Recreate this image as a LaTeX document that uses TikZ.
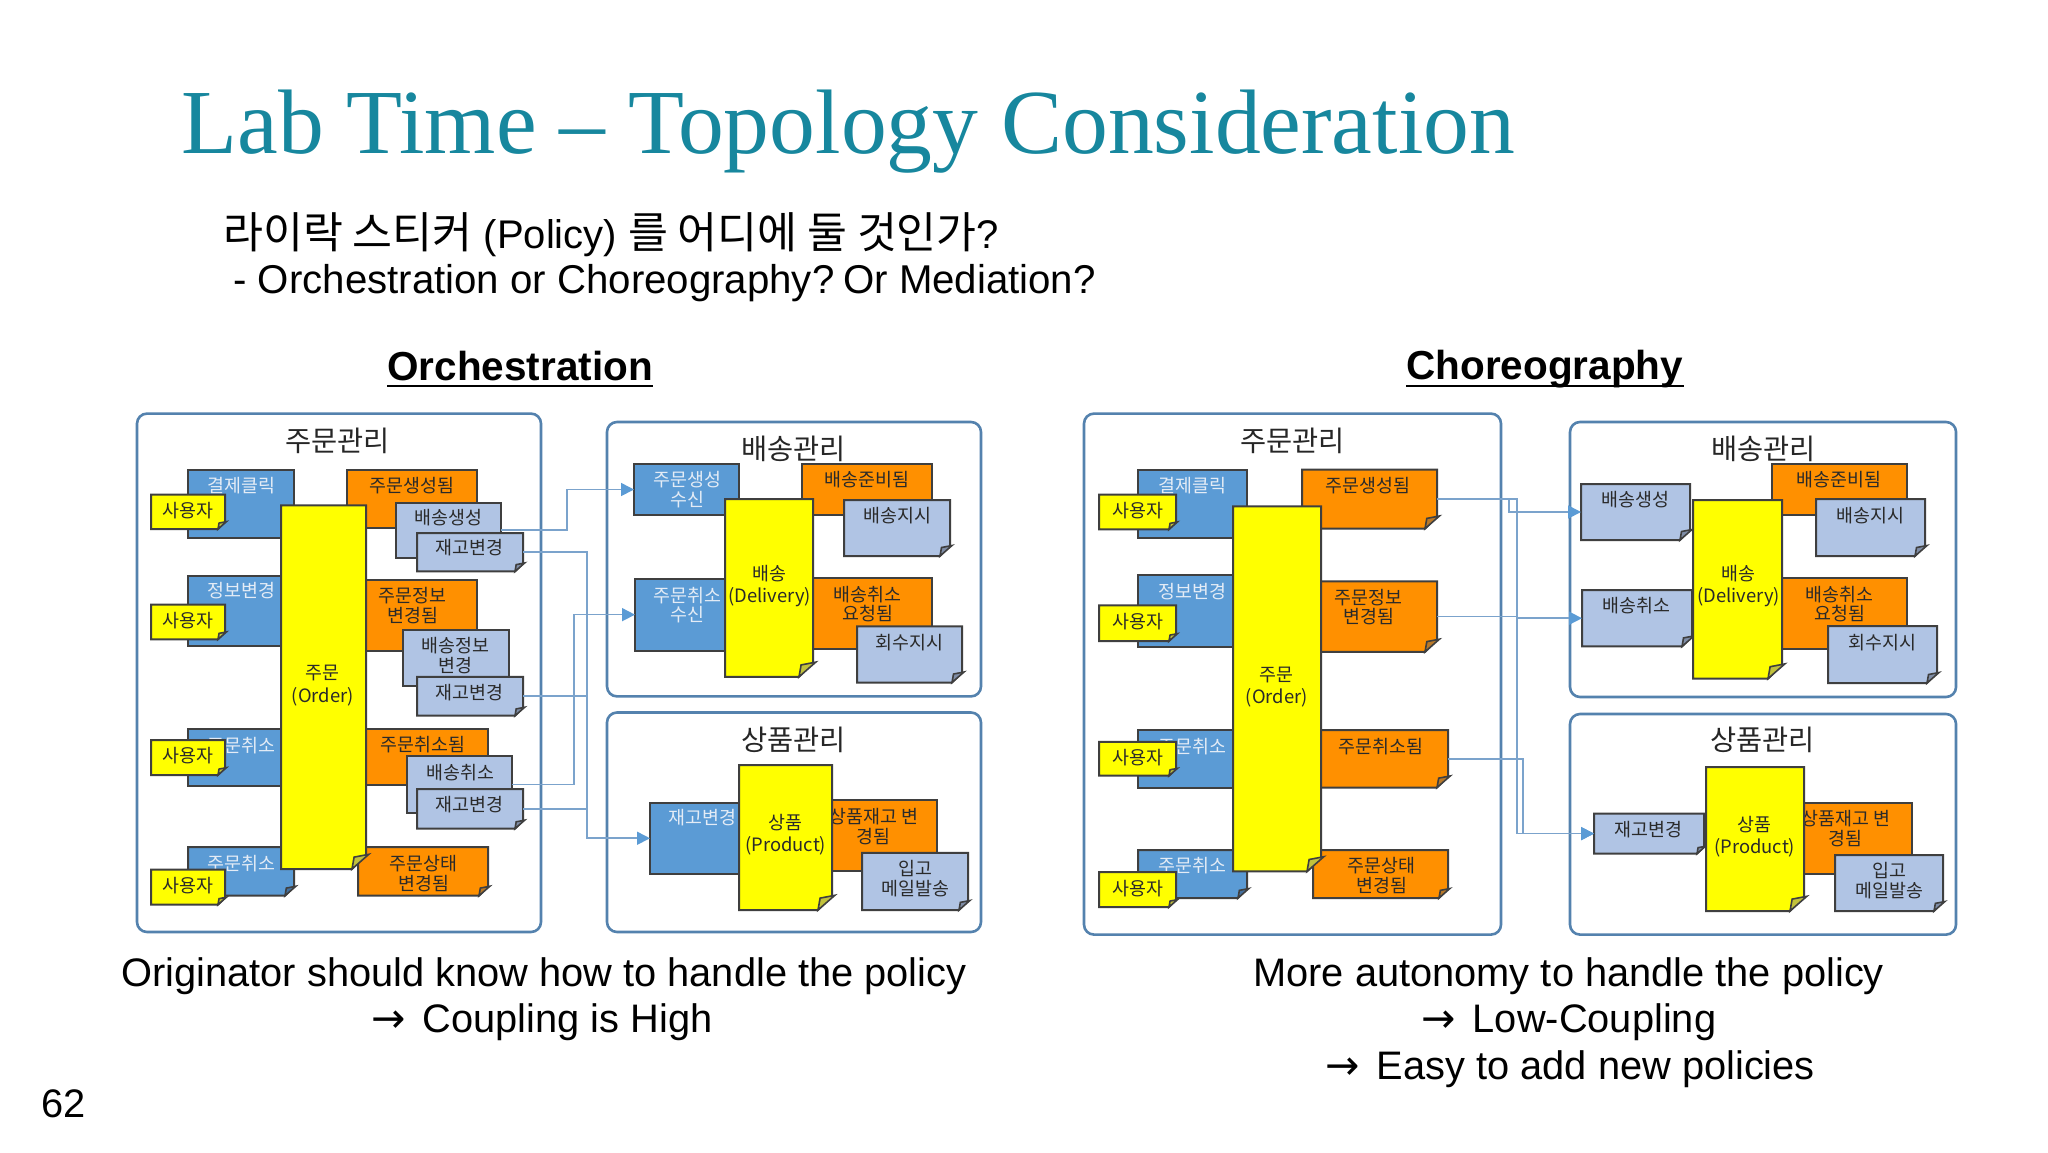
\documentclass[tikz,border=0pt]{standalone}
\usepackage{fontspec}
\usetikzlibrary{calc,arrows.meta}
\setmainfont{Liberation Sans}
\newfontfamily\titlefont{Liberation Serif}
\newfontfamily\kr{Noto Sans CJK KR}
\newfontfamily\arrowfont{DejaVu Sans}
\definecolor{bluefill}{HTML}{5B9BD5}
\definecolor{orangefill}{HTML}{FF9000}
\definecolor{grayfill}{HTML}{B0C4E4}
\definecolor{yellowfill}{HTML}{FFFF00}
\definecolor{edgecol}{HTML}{3F3F3F}
\definecolor{framecol}{HTML}{5482AE}
\definecolor{flowcol}{HTML}{7BA3CC}
\definecolor{tipcol}{HTML}{5B9BD5}
\definecolor{titlecol}{HTML}{17879E}
\definecolor{foldY}{HTML}{C2C23C}
\definecolor{foldO}{HTML}{B8792A}
\definecolor{foldB}{HTML}{44709E}
\definecolor{foldG}{HTML}{7F8DA6}
\definecolor{lighttext}{HTML}{E4ECF6}
\definecolor{darktext}{HTML}{2A2A2A}
\newcount\lblcount
\newcommand\arr{{\arrowfont\fontsize{20.5}{22}\selectfont →}}
\tikzset{
  x=0.5pt,y=-0.5pt,
  frame/.style={draw=framecol,line width=1.3pt,rounded corners=5pt,fill=white},
  boxnode/.style={draw=edgecol,line width=1pt,inner sep=0pt,outer sep=0pt},
  anchornode/.style={inner sep=0pt,outer sep=0pt},
  notebody/.style={draw=edgecol,line width=1pt,line join=miter},
  kortext/.style={font=\kr\fontsize{9.2}{10}\selectfont,inner sep=0pt},
  headtext/.style={font=\kr\fontsize{14.2}{15}\selectfont,inner sep=0pt,text=black!85},
  flow/.style={draw=flowcol,line width=0.8pt},
  flowtip/.style={flow,-{Triangle[length=6.5pt,width=6.5pt,color=tipcol]}},
  slidetext/.style={font=\fontsize{19.9}{22}\selectfont,inner sep=0pt,anchor=base west},
}
% name x1 y1 x2 y2 fill
\newcommand\plainbox[6]{%
  \node[boxnode,fill=#6,minimum width={(#4-#2)*0.5},minimum height={(#5-#3)*0.5}] (#1) at ({(#2+#4)/2},{(#3+#5)/2}) {};}
% name x1 y1 x2 y2 fill foldsize foldfill
\newcommand\notebox[8]{%
  \node[anchornode,minimum width={(#4-#2)*0.5},minimum height={(#5-#3)*0.5}] (#1) at ({(#2+#4)/2},{(#3+#5)/2}) {};
  \path[notebody,fill=#6] (#2,#3) -- (#4,#3) -- (#4,{#5-#7}) -- ({#4-#7},#5) -- (#2,#5) -- cycle;
  \path[notebody,fill=#8,line width=0.8pt] ({#4-#7},#5) -- ({#4-0.85*#7},{#5-0.85*#7}) -- ({#4+0.2*#7},{#5-1.05*#7}) -- cycle;}
% x y colour text
\newcommand\lbl[4]{%
  \global\advance\lblcount by 1
  \node[kortext,text=#3] (t\the\lblcount) at ({#1+0.7},{#2+1}) {#4};}
\newcommand\hd[3]{%
  \global\advance\lblcount by 1
  \node[headtext] (t\the\lblcount) at ({#1+0.7},{#2+1}) {#3};}
\begin{document}
\begin{tikzpicture}
\useasboundingbox (0,0) rectangle (2048,1152);
\fill[white] (0,0) rectangle (2048,1152);

% slide texts
\node[inner sep=0pt,anchor=base west,text=titlecol,font=\titlefont\fontsize{45.8}{50}\selectfont] (title) at (181,153) {Lab Time – Topology Consideration};
\node[slidetext,font=\fontsize{20}{22}\selectfont] (q1) at (223,248) {{\kr\fontsize{21.7}{23}\selectfont 라이락 스티커} (Policy) {\kr\fontsize{21.7}{23}\selectfont 를 어디에 둘 것인가}?};
\node[slidetext,font=\fontsize{20.1}{22}\selectfont] (q2) at (233,293) {- Orchestration or Choreography?\hspace{-3pt} Or Mediation?};
\node[slidetext,font=\bfseries\fontsize{20.25}{22}\selectfont] (orch) at (387,380) {Orchestration};
\draw[line width=1.25pt] ($(orch.base west)+(0,6)$) -- ($(orch.base east)+(0,6)$);
\node[slidetext,font=\bfseries\fontsize{20.25}{22}\selectfont] (chor) at (1406,379) {Choreography};
\draw[line width=1.25pt] ($(chor.base west)+(0,7)$) -- ($(chor.base east)+(0,7)$);
\node[slidetext] (c1) at (121,986) {Originator should know how to handle the policy};
\node[slidetext] (c2) at (371,1032) {\arr\hspace{3pt} Coupling is High};
\node[slidetext] (c3) at (1253,986) {More autonomy to handle the policy};
\node[slidetext] (c4) at (1421,1032) {\arr\hspace{3pt} Low-Coupling};
\node[slidetext] (c5) at (1325,1079) {\arr\hspace{3pt} Easy to add new policies};
\node[slidetext] (pg) at (41,1117) {62};

% ===== Orchestration: order frame
\path[frame] (137,413.6) rectangle (541,932);
\hd{337}{440}{주문관리}
\plainbox{aPay}{188}{470}{294}{537.5}{bluefill}
\lbl{241}{484.6}{lighttext}{결제클릭}
\plainbox{aInfo}{188}{575.7}{294}{646.4}{bluefill}
\lbl{241}{590}{lighttext}{정보변경}
\plainbox{aCan}{188}{728.6}{294}{785.7}{bluefill}
\lbl{241}{744.6}{lighttext}{주문취소}
\notebox{aCanB}{188}{847}{294}{895.7}{bluefill}{9}{foldB}
\lbl{241}{862.5}{lighttext}{주문취소}
\plainbox{aOc}{347}{469.6}{477}{527.9}{orangefill}
\lbl{411}{484.6}{darktext}{주문생성됨}
\plainbox{aOi}{346}{580}{477}{651}{orangefill}
\lbl{412}{595}{darktext}{주문정보}
\lbl{412}{615}{darktext}{변경됨}
\plainbox{aOx}{346}{728.6}{488}{785}{orangefill}
\lbl{422}{743.6}{darktext}{주문취소됨}
\notebox{aOs}{358}{847}{488}{895.7}{orangefill}{9}{foldO}
\lbl{423}{863}{darktext}{주문상태}
\lbl{423}{883}{darktext}{변경됨}
\notebox{aOrder}{281}{505.4}{366}{869}{yellowfill}{14}{foldY}
\lbl{322}{672}{darktext}{주문}
\lbl{322}{695.7}{darktext}{(Order)}
\plainbox{aShip}{396}{502.5}{501}{558}{grayfill}
\lbl{448}{517}{darktext}{배송생성}
\notebox{aStk}{417}{533}{523}{571.4}{grayfill}{8}{foldG}
\lbl{469}{547}{darktext}{재고변경}
\plainbox{aShipI}{403}{629.6}{509}{685.7}{grayfill}
\lbl{455}{645}{darktext}{배송정보}
\lbl{455}{665}{darktext}{변경}
\notebox{aStkI}{417}{676.8}{523}{715.7}{grayfill}{8}{foldG}
\lbl{469}{692}{darktext}{재고변경}
\plainbox{aShipX}{407}{756.4}{512}{812.5}{grayfill}
\lbl{460}{771.4}{darktext}{배송취소}
\notebox{aStkX}{417}{789}{523}{828.6}{grayfill}{8}{foldG}
\lbl{469}{804}{darktext}{재고변경}
\notebox{aU1}{151}{494.6}{225}{529}{yellowfill}{7}{foldY}
\lbl{187}{509.6}{darktext}{사용자}
\notebox{aU2}{151}{604.6}{225}{639.3}{yellowfill}{7}{foldY}
\lbl{187}{619.6}{darktext}{사용자}
\notebox{aU3}{151}{740}{225}{775}{yellowfill}{7}{foldY}
\lbl{187}{754.6}{darktext}{사용자}
\notebox{aU4}{151}{869.6}{225}{904.6}{yellowfill}{7}{foldY}
\lbl{187}{884.6}{darktext}{사용자}

% delivery frame
\path[frame] (607,422) rectangle (981,696.4);
\hd{793}{448}{배송관리}
\plainbox{bRc}{634}{463.6}{739}{515.4}{bluefill}
\lbl{687}{479}{lighttext}{주문생성}
\lbl{687}{499}{lighttext}{수신}
\plainbox{bRx}{635}{578.6}{740}{650.7}{bluefill}
\lbl{687}{594.6}{lighttext}{주문취소}
\lbl{687}{614}{lighttext}{수신}
\plainbox{bOr}{802}{463.6}{932}{515.4}{orangefill}
\lbl{866}{479}{darktext}{배송준비됨}
\plainbox{bOx}{802}{578}{932}{649}{orangefill}
\lbl{867}{594}{darktext}{배송취소}
\lbl{867}{613}{darktext}{요청됨}
\notebox{bDel}{725}{499}{813}{676.8}{yellowfill}{14}{foldY}
\lbl{769}{573}{darktext}{배송}
\lbl{769}{596}{darktext}{(Delivery)}
\notebox{bGo}{844}{500}{950}{556}{grayfill}{10}{foldG}
\lbl{897}{515}{darktext}{배송지시}
\notebox{bBack}{857}{626.4}{962}{682.5}{grayfill}{10}{foldG}
\lbl{909}{641.8}{darktext}{회수지시}

% product frame
\path[frame] (607,712.5) rectangle (981,932);
\hd{793}{738.6}{상품관리}
\plainbox{cStk}{650}{802.5}{745}{874}{bluefill}
\lbl{702}{816.8}{lighttext}{재고변경}
\plainbox{cOs}{815}{800}{937}{871.4}{orangefill}
\lbl{873}{816}{darktext}{상품재고 변}
\lbl{873}{835.7}{darktext}{경됨}
\notebox{cProd}{739}{765}{832}{910}{yellowfill}{14}{foldY}
\lbl{785}{821.4}{darktext}{상품}
\lbl{785}{844.6}{darktext}{(Product)}
\notebox{cMail}{862}{852.9}{968}{910}{grayfill}{9}{foldG}
\lbl{915}{867}{darktext}{입고}
\lbl{915}{887.5}{darktext}{메일발송}

% ===== Choreography: order frame
\path[frame] (1084,413.6) rectangle (1501,934.6);
\hd{1292}{440}{주문관리}
\plainbox{dPay}{1138}{469.6}{1247}{537.5}{bluefill}
\lbl{1192}{484.6}{lighttext}{결제클릭}
\plainbox{dInfo}{1138}{575}{1247}{647}{bluefill}
\lbl{1192}{591}{lighttext}{정보변경}
\plainbox{dCan}{1138}{730}{1247}{788}{bluefill}
\lbl{1192}{745.7}{lighttext}{주문취소}
\notebox{dCanB}{1138}{850}{1247}{898}{bluefill}{9}{foldB}
\lbl{1192}{865}{lighttext}{주문취소}
\notebox{dOc}{1302}{469.6}{1437}{528.6}{orangefill}{12}{foldO}
\lbl{1367}{485}{darktext}{주문생성됨}
\notebox{dOi}{1302}{581.4}{1437}{651.8}{orangefill}{12}{foldO}
\lbl{1368}{596.4}{darktext}{주문정보}
\lbl{1368}{616}{darktext}{변경됨}
\notebox{dOx}{1302}{730}{1448}{787.5}{orangefill}{11}{foldO}
\lbl{1380}{745.7}{darktext}{주문취소됨}
\notebox{dOs}{1313}{850}{1448}{898}{orangefill}{9}{foldO}
\lbl{1381}{865}{darktext}{주문상태}
\lbl{1381}{885}{darktext}{변경됨}
\notebox{dOrder}{1233}{506.4}{1321}{871.4}{yellowfill}{14}{foldY}
\lbl{1276}{674}{darktext}{주문}
\lbl{1276}{696.4}{darktext}{(Order)}
\notebox{dU1}{1099}{494.6}{1176}{529.3}{yellowfill}{7}{foldY}
\lbl{1137}{510}{darktext}{사용자}
\notebox{dU2}{1099}{605.4}{1176}{641}{yellowfill}{7}{foldY}
\lbl{1137}{620.7}{darktext}{사용자}
\notebox{dU3}{1099}{741.8}{1176}{775.7}{yellowfill}{7}{foldY}
\lbl{1137}{756.4}{darktext}{사용자}
\notebox{dU4}{1099}{872}{1176}{907}{yellowfill}{7}{foldY}
\lbl{1137}{887.5}{darktext}{사용자}

% delivery frame
\path[frame] (1570,422) rectangle (1956,697);
\hd{1763}{448}{배송관리}
\notebox{eShip}{1581}{484}{1690}{540}{grayfill}{10}{foldG}
\lbl{1635}{499}{darktext}{배송생성}
\notebox{eCan}{1582}{590}{1692}{646.4}{grayfill}{10}{foldG}
\lbl{1636}{605}{darktext}{배송취소}
\plainbox{eOr}{1772}{464}{1907}{515}{orangefill}
\lbl{1838}{479}{darktext}{배송준비됨}
\plainbox{eOx}{1772}{578}{1907}{649}{orangefill}
\lbl{1839}{594}{darktext}{배송취소}
\lbl{1839}{613}{darktext}{요청됨}
\notebox{eDel}{1693}{500}{1782}{678.6}{yellowfill}{14}{foldY}
\lbl{1738}{573}{darktext}{배송}
\lbl{1738}{596}{darktext}{(Delivery)}
\notebox{eGo}{1816}{499}{1925}{556}{grayfill}{10}{foldG}
\lbl{1870}{515}{darktext}{배송지시}
\notebox{eBack}{1828}{626}{1937}{683}{grayfill}{10}{foldG}
\lbl{1882}{642}{darktext}{회수지시}

% product frame
\path[frame] (1570,714) rectangle (1956,934.6);
\hd{1762}{739}{상품관리}
\notebox{fStk}{1594}{813.6}{1704}{853.6}{grayfill}{7}{foldG}
\lbl{1648}{828.6}{darktext}{재고변경}
\plainbox{fOs}{1790}{802.5}{1912}{874}{orangefill}
\lbl{1845}{818}{darktext}{상품재고 변}
\lbl{1845}{837.5}{darktext}{경됨}
\notebox{fProd}{1706}{767}{1804}{911}{yellowfill}{14}{foldY}
\lbl{1754}{824}{darktext}{상품}
\lbl{1754}{847}{darktext}{(Product)}
\notebox{fMail}{1835}{855}{1943}{911}{grayfill}{9}{foldG}
\lbl{1889}{869}{darktext}{입고}
\lbl{1889}{890}{darktext}{메일발송}

% ===== connectors, left
\coordinate (busA) at (567,510);
\coordinate (busB) at (587,700);
\coordinate (busC) at (574,700);
\draw[flowtip] (aShip.east) -| (busA) |- (bRc.west);
\draw[flowtip] (aStk.east) -| (busB) |- (cStk.west);
\draw[flow] (aStkI.east) -- (aStkI.east -| busB);
\draw[flow] (aStkX.east) -- (aStkX.east -| busB);
\draw[flowtip] (aShipX.east) -| (busC) |- (bRx.west);

% ===== connectors, right
\coordinate (busD) at (1509,505);
\coordinate (busE) at (1517,700);
\coordinate (busF) at (1523,800);
\draw[flowtip] (dOc.east) -| (busD) |- (eShip.west);
\draw[flowtip] (dOc.east) -| (busE) |- (fStk.west);
\draw[flowtip] (dOi.east) -| (busE |- eCan.west) -- (eCan.west);
\draw[flowtip] (dOx.east) -| (busF) |- (fStk.west);
\end{tikzpicture}
\end{document}
